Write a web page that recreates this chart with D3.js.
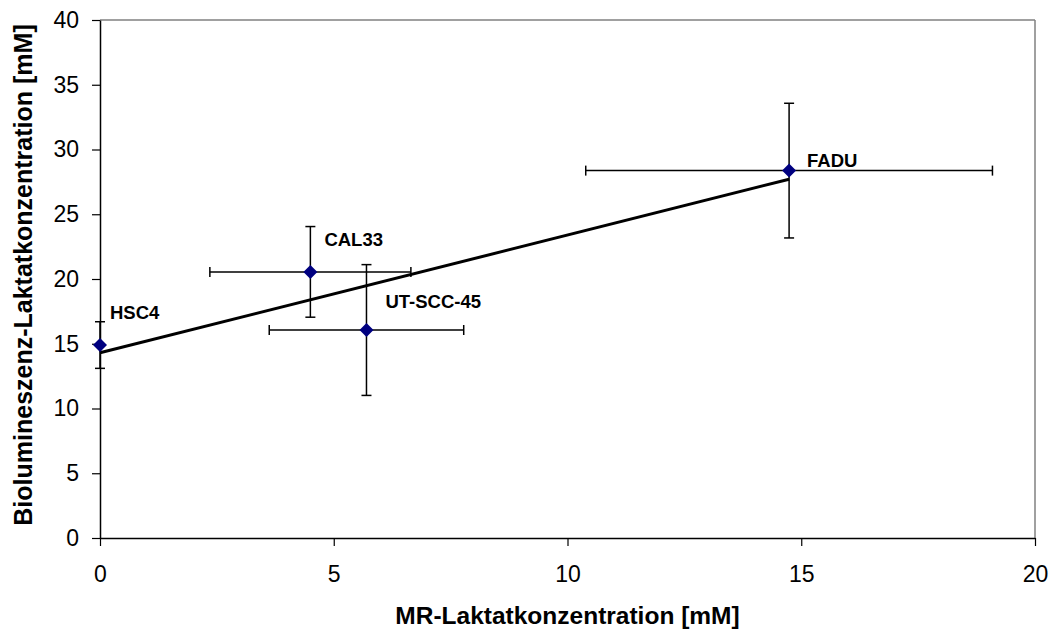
<!DOCTYPE html>
<html>
<head>
<meta charset="utf-8">
<script src="https://cdn.jsdelivr.net/npm/d3@7"></script>
<style>
  body { margin: 0; background: #fff; }
  svg { font-family: 'Liberation Sans', Arial, sans-serif; }
</style>
</head>
<body>
<div id="chart"></div>
<script>
// data
const cellLines = ['HSC4', 'CAL33', 'UT-SCC-45', 'FADU'];
const mrLactate = [0, 4.5, 5.7, 14.74];
const mrError = [0, 2.15, 2.08, 4.35];
const bioLactate = [14.9, 20.55, 16.06, 28.37];
const bioError = [1.8, 3.5, 5.05, 5.2];
const xTicks = [0, 5, 10, 15, 20];
const yTicks = [0, 5, 10, 15, 20, 25, 30, 35, 40];

// label offsets (px) from each marker
const labelOffsets = [[10, -33], [14, -32], [19, -28], [18, -10]];

const margin = { top: 20, right: 20, bottom: 94, left: 100 };
const width = 1055 - margin.left - margin.right;
const height = 632 - margin.top - margin.bottom;

const points = cellLines.map((name, i) => ({
  name,
  x: mrLactate[i],
  xe: mrError[i],
  y: bioLactate[i],
  ye: bioError[i],
}));

const xScale = d3.scaleLinear().domain([0, 20]).range([0, width]);
const yScale = d3.scaleLinear().domain([0, 40]).range([height, 0]);

const svg = d3.select('#chart').append('svg')
  .attr('width', 1055)
  .attr('height', 632);

const g = svg.append('g')
  .attr('transform', `translate(${margin.left},${margin.top})`);

// grey frame top / right
g.append('line')
  .attr('x1', 0).attr('x2', width)
  .attr('y1', 0).attr('y2', 0)
  .attr('stroke', '#808080').attr('stroke-width', 1.5);
g.append('line')
  .attr('x1', width).attr('x2', width)
  .attr('y1', 0).attr('y2', height)
  .attr('stroke', '#808080').attr('stroke-width', 1.5);

// axes
const xAxis = g.append('g')
  .attr('transform', `translate(0,${height})`)
  .call(d3.axisBottom(xScale).tickValues(xTicks).tickSize(8).tickSizeOuter(0).tickPadding(20));
const yAxis = g.append('g')
  .call(d3.axisLeft(yScale).tickValues(yTicks).tickSize(8).tickSizeOuter(0).tickPadding(13));

[xAxis, yAxis].forEach((a) => {
  a.select('.domain').attr('stroke', '#000').attr('stroke-width', 1.5);
  a.selectAll('.tick line').attr('stroke', '#000').attr('stroke-width', 1.2);
  a.selectAll('.tick text')
    .attr('fill', '#000')
    .style('font-size', '23px')
    .style('font-family', "'Liberation Sans', Arial, sans-serif");
});

// axis titles
g.append('text')
  .attr('x', width / 2)
  .attr('y', height + 86)
  .attr('text-anchor', 'middle')
  .style('font-size', '24.5px')
  .style('font-weight', 'bold')
  .text('MR-Laktatkonzentration [mM]');

g.append('text')
  .attr('transform', `translate(${-68},${255}) rotate(-90)`)
  .attr('text-anchor', 'middle')
  .style('font-size', '25px')
  .style('font-weight', 'bold')
  .text('Biolumineszenz-Laktatkonzentration [mM]');

// linear trendline (least squares)
const mx = d3.mean(points, d => d.x);
const my = d3.mean(points, d => d.y);
const slope = d3.sum(points, d => (d.x - mx) * (d.y - my)) / d3.sum(points, d => (d.x - mx) ** 2);
const intercept = my - slope * mx;
const xExt = d3.extent(points, d => d.x);

g.append('line')
  .attr('x1', xScale(xExt[0]))
  .attr('y1', yScale(intercept + slope * xExt[0]))
  .attr('x2', xScale(xExt[1]))
  .attr('y2', yScale(intercept + slope * xExt[1]))
  .attr('stroke', '#000')
  .attr('stroke-width', 3);

// error bars
const cap = 5;
const err = g.selectAll('.err')
  .data(points)
  .enter().append('g')
  .attr('class', 'err')
  .attr('stroke', '#000')
  .attr('stroke-width', 1.5);

err.filter(d => d.xe > 0).each(function drawX(d) {
  const e = d3.select(this);
  const y = yScale(d.y);
  e.append('line').attr('x1', xScale(d.x - d.xe)).attr('x2', xScale(d.x + d.xe)).attr('y1', y).attr('y2', y);
  e.append('line').attr('x1', xScale(d.x - d.xe)).attr('x2', xScale(d.x - d.xe)).attr('y1', y - cap).attr('y2', y + cap);
  e.append('line').attr('x1', xScale(d.x + d.xe)).attr('x2', xScale(d.x + d.xe)).attr('y1', y - cap).attr('y2', y + cap);
});

err.each(function drawY(d) {
  const e = d3.select(this);
  const x = xScale(d.x);
  e.append('line').attr('x1', x).attr('x2', x).attr('y1', yScale(d.y - d.ye)).attr('y2', yScale(d.y + d.ye));
  e.append('line').attr('x1', x - cap).attr('x2', x + cap).attr('y1', yScale(d.y - d.ye)).attr('y2', yScale(d.y - d.ye));
  e.append('line').attr('x1', x - cap).attr('x2', x + cap).attr('y1', yScale(d.y + d.ye)).attr('y2', yScale(d.y + d.ye));
});

// diamond markers
g.selectAll('.pt')
  .data(points)
  .enter().append('path')
  .attr('class', 'pt')
  .attr('d', 'M0,-7L7,0L0,7L-7,0Z')
  .attr('transform', d => `translate(${xScale(d.x)},${yScale(d.y)})`)
  .attr('fill', '#000080');

// point labels
g.selectAll('.lbl')
  .data(points)
  .enter().append('text')
  .attr('class', 'lbl')
  .attr('x', (d, i) => xScale(d.x) + labelOffsets[i][0])
  .attr('y', (d, i) => yScale(d.y) + labelOffsets[i][1])
  .attr('dy', '0.35em')
  .style('font-size', '18.5px')
  .style('font-weight', 'bold')
  .text(d => d.name);
</script>
</body>
</html>
